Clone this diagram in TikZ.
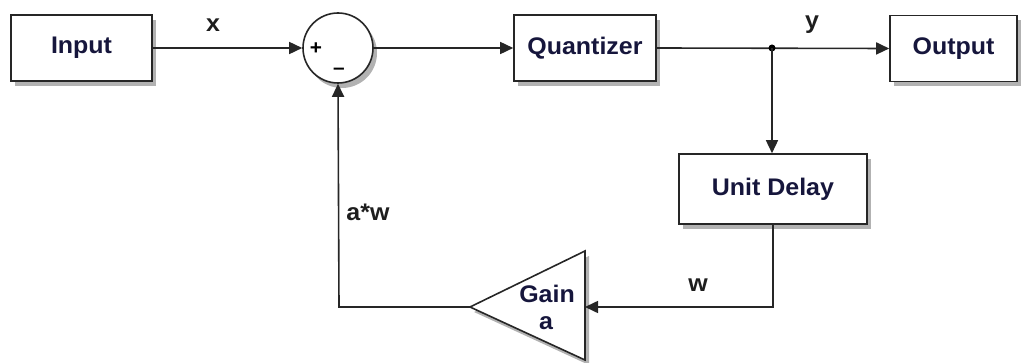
\documentclass[tikz,border=0pt]{standalone}
\usepackage{fontspec}
\setmainfont{Liberation Sans}[FakeStretch=1.04]
\usetikzlibrary{arrows.meta,shadows}
\definecolor{txtnavy}{RGB}{22,22,60}
\definecolor{lblgray}{RGB}{30,30,30}
\begin{document}
\begin{tikzpicture}[x=1pt,y=-1pt,
  blk/.style={draw=black!85, line width=1.6pt, fill=white, inner sep=0pt,
    font=\bfseries\fontsize{24}{28}\selectfont, text=txtnavy,
    drop shadow={shadow xshift=4pt, shadow yshift=-5pt, opacity=0.3, fill=black}},
  lbl/.style={font=\bfseries\fontsize{24}{28}\selectfont, text=lblgray, inner sep=0pt},
  sgn/.style={font=\bfseries\fontsize{20}{24}\selectfont, text=black, inner sep=0pt},
  wire/.style={line width=1.6pt, draw=black!85},
  arr/.style={wire, -{Triangle[length=13pt,width=12pt]}}]
\useasboundingbox (0,0) rectangle (1021,363);
% blocks
\node[blk, minimum width=141pt, minimum height=66pt] (in) at (81.5,48) {Input};
\node[blk, circle, minimum size=70pt] (sum) at (338,48) {};
\node[blk, minimum width=142pt, minimum height=66pt] (q) at (585,48) {Quantizer};
\node[blk, minimum width=127pt, minimum height=66pt] (out) at (953.5,48.5) {Output};
\node[blk, minimum width=188pt, minimum height=70pt] (ud) at (773,189) {Unit Delay};
% gain triangle
\coordinate (gtip) at (470,307);
\coordinate (gtop) at (585,251);
\coordinate (gbot) at (585,360);
\coordinate (gin) at (585,307);
\filldraw[fill=white, draw=black!85, line width=1.6pt,
  drop shadow={shadow xshift=4pt, shadow yshift=-5pt, opacity=0.3, fill=black}]
  (gtip) -- (gtop) -- (gbot) -- cycle;
\node[font=\bfseries\fontsize{24}{28}\selectfont, text=txtnavy, inner sep=0pt] (gl1) at (547,294) {Gain};
\node[font=\bfseries\fontsize{24}{28}\selectfont, text=txtnavy, inner sep=0pt] (gl2) at (546,323) {a};
% signs
\node[sgn] (plus) at (316,49) {+};
\node[sgn] (minus) at (339,71) {\textendash};
% connectors
\coordinate (jn) at (772,48);
\coordinate (c1) at (773,307);
\coordinate (c2) at (339,307);
\draw[arr] (in.east) -- (sum.west);
\draw[arr] (sum.east) -- (q.west);
\draw[arr] (q.east) -- (out.west);
\fill (jn) circle (3.5pt);
\draw[arr] (jn) -- (ud.north -| jn);
\draw[arr] (ud.south -| c1) -- (c1) -- (gin);
\draw[arr] (gtip) -- (c2) -- (sum.south);
% labels
\node[lbl] (lx) at (213,25) {x};
\node[lbl] (ly) at (812,25) {y};
\node[lbl] (law) at (368,212) {a*w};
\node[lbl] (lw) at (698,285) {w};
\end{tikzpicture}
\end{document}
